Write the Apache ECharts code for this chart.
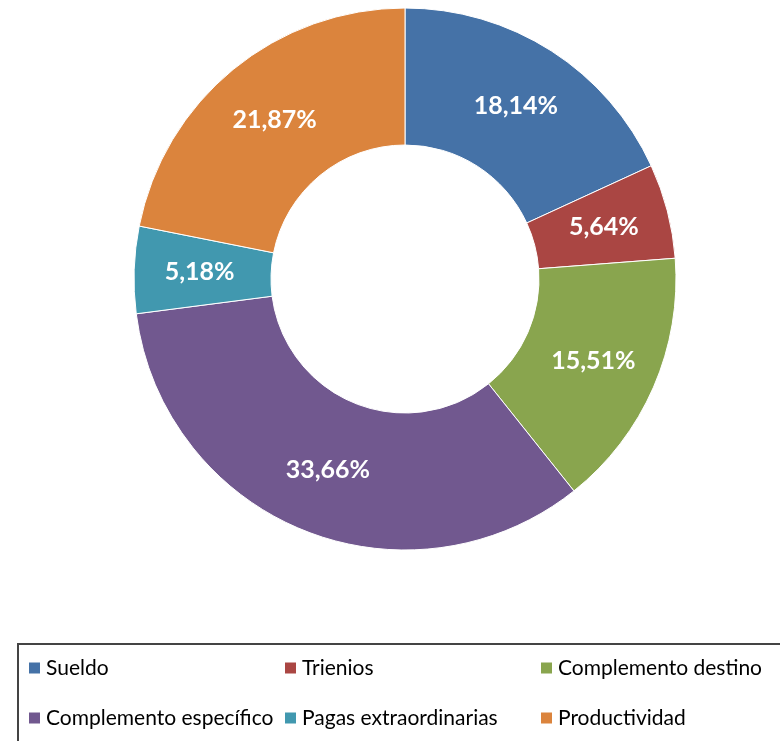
<!DOCTYPE html>
<html>
<head>
<meta charset="utf-8">
<script src="https://cdn.jsdelivr.net/npm/echarts@6/dist/echarts.min.js"></script>
<style>html,body{margin:0;padding:0;background:#fff}#c{width:780px;height:741px}</style>
</head>
<body>
<div id="c"></div>
<script>
const categories = ['Sueldo', 'Trienios', 'Complemento destino', 'Complemento específico', 'Pagas extraordinarias', 'Productividad'];
const values = [18.14, 5.64, 15.51, 33.66, 5.18, 21.87];
const colors = ['#4572A7', '#AA4643', '#89A54E', '#71588F', '#4198AF', '#DB843D'];

const FONT = 'Lato';
const legendPos = [[27, 656], [283, 656], [539, 656], [27, 706], [283, 706], [539, 706]];

const chart = echarts.init(document.getElementById('c'), null, {renderer: 'canvas'});
chart.setOption({
  animation: false,
  color: colors,
  legend: categories.map((name, i) => ({
    data: [name],
    left: legendPos[i][0],
    top: legendPos[i][1],
    padding: 0,
    itemWidth: 13,
    itemHeight: 13,
    itemGap: 0,
    icon: 'rect',
    selectedMode: false,
    textStyle: {fontFamily: FONT, fontSize: 21, color: '#000', lineHeight: 24, padding: [0, 0, 0, 0]}
  })),
  graphic: [{
    type: 'rect',
    shape: {x: 18, y: 644, width: 780, height: 120},
    style: {fill: 'none', stroke: '#444', lineWidth: 2},
    silent: true
  }],
  series: [{
    type: 'pie',
    center: [405, 279],
    radius: [134, 271],
    startAngle: 90,
    clockwise: true,
    avoidLabelOverlap: false,
    itemStyle: {borderColor: '#fff', borderWidth: 1},
    label: {
      show: true,
      position: 'inside',
      formatter: p => p.value.toFixed(2).replace('.', ',') + '%',
      fontFamily: FONT,
      fontWeight: 'bold',
      fontSize: 25,
      color: '#fff'
    },
    labelLine: {show: false},
    emphasis: {disabled: true},
    data: categories.map((name, i) => ({name, value: values[i]}))
  }]
});
</script>
</body>
</html>
